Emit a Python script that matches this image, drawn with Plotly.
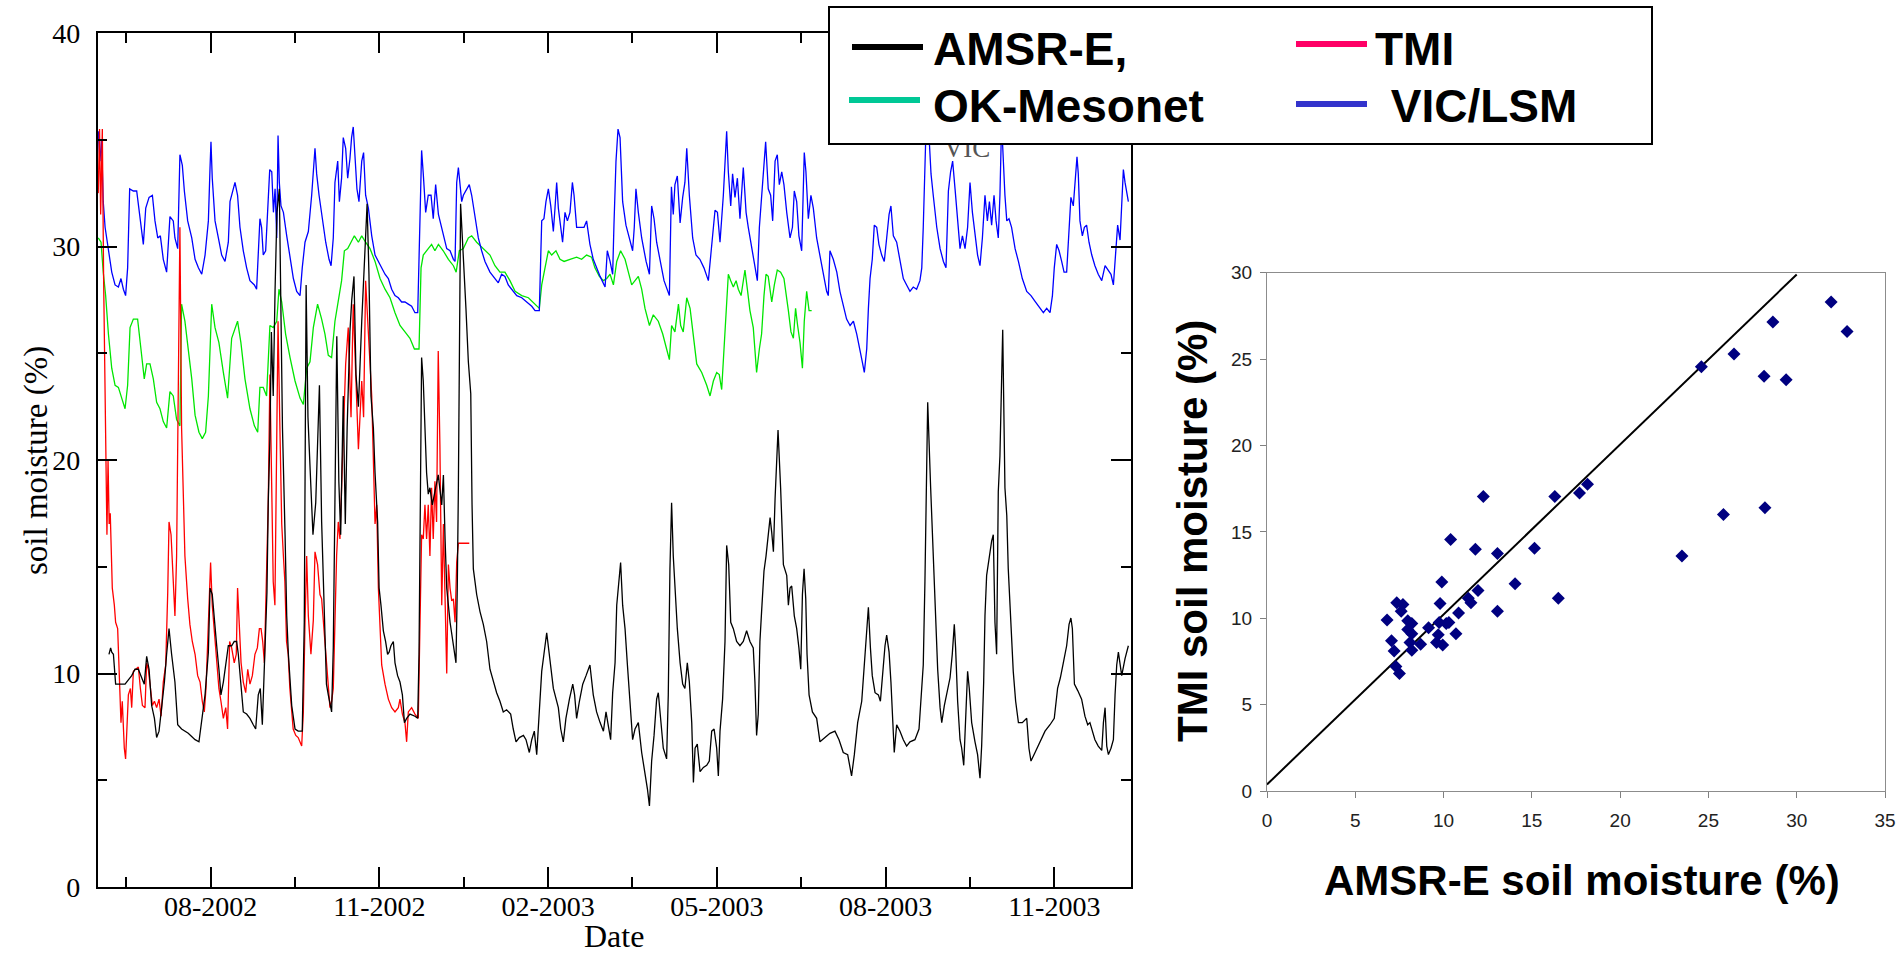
import pandas as pd
import plotly.graph_objects as go

# ---------------- data ----------------
SERIES_START = "2002-06-01"          # day 0 of the time series

# (days since SERIES_START, soil moisture %)
amsr_e = [(6.1,10.9),(7.0,11.2),(7.6,11.0),(8.5,10.9),(9.7,9.5),(12.1,9.5),(14.8,9.5),(16.6,9.7),(18.4,9.9),(20.2,10.2),(22.0,10.2),(23.8,9.8),(25.2,9.5),(26.5,10.8),(27.8,10.2),(29.2,8.5),(30.7,7.9),(31.9,7.0),(33.2,7.3),(34.6,8.4),(36.1,9.6),(37.3,10.9),(38.6,12.1),(40.0,10.9),(41.8,9.6),(43.3,7.6),(45.4,7.4),(49.0,7.2),(52.7,6.9),(54.8,6.8),(56.3,7.9),(58.1,9.0),(59.9,11.0),(60.8,14.0),(62.0,13.7),(63.1,12.4),(64.4,11.3),(65.6,10.2),(66.7,9.0),(68.0,9.6),(69.3,10.5),(70.7,11.3),(72.5,11.3),(73.9,11.5),(75.2,11.5),(76.1,10.9),(77.4,9.6),(78.8,8.2),(80.6,8.1),(82.4,7.9),(84.2,7.6),(85.5,7.4),(86.9,9.0),(88.0,9.3),(89.1,7.6),(90.2,10.1),(90.9,11.3),(91.6,13.8),(92.3,18.0),(93.2,21.0),(94.0,26.0),(95.0,23.0),(96.0,28.0),(97.0,31.6),(98.3,32.7),(99.0,27.0),(100.0,21.5),(101.4,16.5),(102.3,12.7),(103.2,10.9),(105.0,8.5),(106.8,7.4),(108.5,7.3),(110.7,7.3),(111.8,12.4),(112.8,28.2),(113.8,22.0),(115.0,19.5),(116.5,16.5),(118.0,18.0),(120.0,23.5),(121.2,17.1),(122.1,14.0),(123.0,10.9),(123.8,9.5),(124.8,9.0),(126.6,8.2),(127.5,11.2),(128.1,15.5),(129.4,25.8),(130.5,19.0),(131.5,16.5),(132.9,23.0),(134.0,17.0),(135.0,21.5),(136.5,26.0),(137.5,27.5),(138.7,28.6),(139.8,24.0),(141.1,22.5),(142.9,26.5),(143.9,28.2),(145.0,30.5),(145.8,32.0),(146.8,28.7),(147.9,23.0),(149.2,21.5),(150.1,19.4),(151.5,17.1),(152.3,14.0),(153.3,13.2),(154.6,12.0),(155.8,11.5),(156.9,10.9),(157.7,11.0),(158.7,11.3),(160.0,11.5),(160.9,10.5),(162.3,9.9),(163.6,9.6),(164.9,9.0),(166.0,7.7),(167.2,7.9),(169.0,8.1),(171.7,8.0),(173.2,7.9),(173.9,10.9),(174.6,17.1),(175.3,24.8),(176.2,23.7),(177.1,21.5),(178.0,19.4),(178.9,18.4),(179.8,18.7),(181.1,17.9),(182.5,18.5),(184.3,19.3),(186.2,17.9),(187.1,19.3),(188.0,16.3),(188.9,14.0),(190.7,12.4),(192.5,11.2),(193.9,10.5),(194.6,14.0),(195.2,18.7),(196.4,32.0),(197.9,29.6),(199.3,27.1),(200.6,24.6),(201.9,23.1),(202.6,17.9),(203.3,14.9),(205.1,13.7),(206.9,12.9),(208.7,12.3),(210.5,11.5),(212.3,10.2),(214.1,9.6),(215.9,9.1),(217.7,8.7),(219.5,8.2),(221.3,8.3),(223.5,8.1),(224.9,7.4),(226.4,6.8),(228.2,7.0),(230.4,7.1),(231.8,6.9),(233.6,6.3),(234.9,6.9),(236.3,7.3),(237.6,6.2),(238.5,7.7),(240.3,10.1),(241.5,10.9),(243.0,11.9),(244.4,10.9),(246.6,9.3),(249.3,8.4),(250.6,7.4),(252.0,6.8),(253.4,7.9),(255.3,8.8),(257.1,9.5),(258.1,9.0),(259.2,7.9),(260.7,8.7),(262.5,9.5),(264.3,9.9),(266.4,10.4),(268.2,9.0),(270.0,8.2),(271.9,7.7),(273.7,7.3),(275.1,8.2),(276.4,7.4),(277.6,6.9),(278.7,9.1),(280.0,10.5),(280.9,13.2),(282.3,14.8),(283.0,15.2),(284.1,13.2),(285.4,12.1),(286.6,10.5),(288.1,8.4),(289.5,6.9),(290.8,7.4),(292.6,7.7),(294.4,6.3),(296.2,5.4),(297.5,4.6),(298.6,3.8),(299.8,5.9),(301.1,7.1),(302.5,8.8),(303.4,9.1),(304.7,7.9),(306.1,6.5),(307.9,6.0),(308.8,9.0),(309.7,14.9),(310.6,18.0),(311.5,15.5),(312.4,14.0),(313.7,12.1),(315.2,10.5),(316.6,9.5),(317.8,9.3),(319.1,10.5),(320.2,9.6),(321.5,7.7),(322.4,4.9),(323.3,6.5),(324.5,6.7),(326.0,5.4),(327.8,5.6),(329.6,5.7),(331.0,5.9),(332.3,7.3),(333.6,7.4),(335.0,6.5),(335.9,5.2),(336.8,7.3),(338.2,8.8),(339.5,11.5),(340.4,16.0),(341.5,15.1),(342.6,12.4),(344.0,12.1),(345.8,11.5),(347.6,11.3),(349.4,11.5),(351.2,12.0),(353.0,11.5),(354.8,11.2),(355.7,9.6),(356.6,7.1),(357.5,8.1),(358.4,11.5),(359.3,12.9),(360.6,14.8),(361.7,15.5),(362.9,16.5),(363.9,17.3),(364.8,16.6),(365.7,15.7),(366.6,18.2),(367.4,20.2),(368.2,21.4),(369.6,18.7),(371.1,15.1),(372.9,14.6),(373.8,13.2),(374.7,14.0),(375.6,14.1),(377.0,12.7),(378.3,12.1),(379.5,11.2),(380.5,10.2),(381.4,13.7),(382.3,14.9),(383.2,13.5),(383.9,10.9),(385.0,9.0),(386.8,8.2),(389.1,7.9),(390.9,6.8),(393.6,7.0),(396.3,7.2),(399.0,7.3),(401.2,6.9),(403.5,6.3),(405.9,6.2),(408.0,5.2),(409.5,6.2),(411.3,7.7),(413.5,8.7),(415.3,10.9),(416.4,12.4),(417.1,13.1),(418.2,11.2),(419.2,9.9),(420.7,9.1),(422.5,9.0),(423.6,8.7),(424.6,9.8),(426.1,11.3),(427.0,11.8),(428.3,11.0),(429.3,9.6),(430.1,8.4),(431.1,6.3),(432.4,7.6),(434.2,7.3),(436.0,6.9),(437.8,6.6),(439.6,6.8),(442.3,6.9),(444.5,7.4),(445.6,8.7),(446.8,10.4),(447.7,14.3),(448.6,20.2),(449.2,22.7),(450.8,18.7),(452.2,15.5),(453.5,12.4),(454.6,10.2),(455.9,8.4),(456.8,7.7),(458.2,8.5),(459.5,9.1),(461.3,9.8),(462.5,10.9),(463.6,12.3),(464.3,11.2),(465.4,8.7),(466.7,6.9),(467.6,6.5),(468.7,5.7),(469.8,8.4),(470.8,10.1),(471.7,9.3),(473.0,7.7),(474.8,6.8),(476.2,6.2),(477.5,5.1),(478.4,6.6),(479.5,9.6),(480.2,12.7),(481.1,14.6),(482.4,15.5),(483.8,16.2),(484.7,16.5),(485.6,12.4),(486.5,10.9),(487.4,18.5),(488.3,20.2),(489.8,26.1),(491.0,18.7),(492.0,17.4),(492.8,14.9),(494.3,12.4),(495.5,10.1),(496.8,8.7),(498.3,7.7),(500.4,7.7),(502.8,7.9),(504.0,6.5),(505.1,5.9),(507.3,6.3),(510.0,6.8),(512.7,7.3),(515.4,7.6),(517.7,7.9),(519.5,9.3),(521.0,9.8),(522.6,10.5),(524.4,11.3),(525.7,12.3),(526.7,12.6),(527.5,12.1),(528.6,9.5),(530.4,9.2),(532.5,8.8),(534.3,8.0),(535.8,7.6),(537.0,7.7),(538.3,7.3),(539.7,6.9),(541.5,6.6),(543.4,6.4),(544.3,7.7),(545.2,8.4),(546.1,6.6),(547.0,6.2),(548.4,6.5),(549.7,6.9),(550.6,9.0),(551.5,10.4),(552.4,11.0),(553.3,10.4),(554.2,9.9),(556.0,10.7),(557.8,11.3)]

tmi = [(0.3,32.5),(1.0,35.5),(1.6,31.5),(2.5,35.5),(3.2,28.5),(4.0,24.0),(4.5,19.5),(5.0,16.5),(5.6,20.0),(6.2,17.0),(6.8,17.5),(7.4,15.0),(7.9,14.0),(9.0,13.2),(9.7,12.4),(10.8,12.1),(11.5,10.1),(12.6,7.7),(13.3,8.7),(14.4,6.5),(15.1,6.0),(15.9,7.7),(16.6,9.0),(17.7,9.3),(18.4,8.4),(19.3,10.1),(20.5,10.2),(22.0,10.3),(23.1,9.3),(24.2,8.5),(25.6,8.4),(26.5,10.5),(27.4,10.2),(28.5,9.3),(29.6,8.5),(30.7,8.7),(31.9,8.4),(33.2,8.8),(34.3,8.0),(35.5,9.6),(36.8,10.4),(37.9,13.8),(38.6,17.1),(39.7,16.5),(40.4,15.2),(41.1,13.4),(41.8,12.7),(42.7,15.5),(43.6,22.0),(44.5,30.9),(45.4,21.5),(46.3,18.7),(47.2,15.5),(48.7,13.5),(49.9,12.3),(51.2,11.5),(52.7,10.9),(54.1,9.9),(55.4,9.6),(56.6,8.7),(57.7,8.2),(58.6,9.3),(59.5,11.5),(60.4,13.7),(61.1,15.2),(62.0,13.2),(63.1,12.1),(64.4,10.9),(65.6,9.3),(66.7,8.7),(68.0,7.9),(69.3,8.4),(70.3,7.4),(71.4,11.5),(72.5,11.2),(73.9,10.5),(75.0,10.9),(75.7,14.0),(76.5,12.4),(77.6,10.5),(78.8,9.6),(80.1,9.1),(81.2,10.2),(82.4,9.5),(83.7,9.9),(85.1,10.9),(86.4,11.2),(87.5,12.1),(88.4,12.1),(89.3,11.5),(90.2,10.5),(90.9,12.7),(91.6,15.5),(92.3,18.0),(93.2,24.0),(94.0,19.0),(95.0,14.3),(95.9,13.2),(96.8,20.5),(97.6,26.5),(98.5,22.0),(99.6,17.0),(100.5,15.5),(101.3,14.3),(102.2,11.5),(103.1,10.9),(104.0,9.3),(104.9,8.2),(105.8,7.4),(107.2,7.1),(108.5,7.0),(110.4,6.6),(111.3,8.2),(112.2,12.4),(113.1,15.5),(114.0,12.7),(115.4,10.9),(116.7,12.5),(117.6,15.7),(119.0,15.1),(120.3,13.7),(121.2,13.5),(122.1,12.4),(123.0,11.5),(123.9,10.2),(124.8,9.0),(125.7,8.4),(126.6,8.7),(127.5,9.3),(128.4,12.4),(129.3,15.5),(130.2,17.1),(131.1,16.3),(132.0,18.7),(132.9,21.0),(134.2,24.5),(135.6,26.2),(137.1,22.0),(138.3,27.3),(139.6,24.0),(141.1,20.5),(142.9,23.7),(143.9,22.0),(145.0,28.4),(146.5,26.2),(148.3,23.0),(150.1,17.0),(151.0,17.9),(151.9,14.0),(152.8,11.8),(153.7,10.4),(155.5,9.5),(157.3,8.8),(159.1,8.4),(160.9,8.2),(162.7,8.4),(163.6,8.8),(164.9,8.1),(166.3,7.7),(167.2,6.8),(168.1,8.2),(169.9,8.4),(171.7,8.1),(173.5,7.9),(174.4,12.4),(175.3,16.5),(176.2,16.3),(177.1,17.9),(178.0,16.3),(178.9,17.9),(179.8,15.5),(180.7,18.7),(181.6,16.3),(182.5,19.0),(183.4,17.1),(184.3,25.1),(185.2,20.7),(186.2,13.2),(187.1,17.0),(188.0,13.0),(188.9,10.0),(189.8,15.1),(190.7,14.0),(191.6,13.4),(192.5,13.5),(193.4,12.4),(194.3,15.2),(195.2,16.1),(201.1,16.1)]

ok_mesonet = [(0.3,30.4),(1.8,30.2),(3.0,28.8),(4.3,27.7),(5.8,25.9),(7.6,24.3),(9.4,23.5),(11.2,23.4),(13.0,22.9),(14.8,22.4),(16.2,23.5),(17.5,26.2),(19.3,26.6),(21.6,26.6),(23.4,25.2),(25.2,23.8),(26.5,24.5),(28.3,24.5),(30.1,23.8),(31.9,22.7),(33.7,22.4),(35.5,21.8),(37.3,21.5),(39.1,23.2),(40.9,23.0),(42.7,21.9),(44.5,21.6),(45.4,27.3),(47.2,26.5),(49.0,25.2),(50.9,23.8),(52.7,22.1),(54.8,21.3),(56.6,21.0),(58.4,21.3),(59.9,23.0),(60.8,25.2),(61.7,27.3),(63.5,26.2),(65.6,25.5),(68.0,24.1),(70.3,22.9),(72.5,25.7),(74.3,26.2),(75.7,26.5),(77.5,25.5),(79.7,23.8),(82.4,22.4),(84.8,21.6),(86.6,21.3),(87.8,23.4),(89.6,23.4),(91.4,23.0),(93.2,26.3),(95.0,26.2),(96.9,26.5),(98.1,28.0),(99.6,27.4),(101.7,25.9),(104.1,24.8),(106.8,23.7),(109.5,22.9),(111.3,22.6),(113.1,24.3),(114.9,24.6),(116.7,26.2),(119.0,27.3),(121.2,26.6),(123.0,25.9),(124.8,24.9),(126.6,24.8),(128.4,26.5),(130.2,27.4),(132.0,28.4),(133.5,29.8),(135.3,29.9),(137.1,30.2),(138.9,30.5),(141.1,30.2),(142.9,30.5),(145.0,30.2),(147.4,29.9),(150.1,29.3),(152.8,28.5),(155.5,28.0),(158.2,27.6),(160.9,26.9),(163.6,26.3),(166.3,26.0),(169.0,25.7),(171.4,25.2),(173.9,25.2),(175.0,29.0),(176.2,29.6),(178.9,29.9),(180.7,30.1),(182.5,29.8),(184.4,30.1),(187.0,29.8),(189.8,29.4),(192.5,29.1),(194.0,28.8),(195.7,29.8),(197.9,29.9),(200.6,30.4),(202.4,30.5),(205.1,30.2),(208.7,29.9),(212.3,29.6),(215.0,29.1),(217.7,28.8),(220.4,28.8),(223.1,28.4),(225.9,27.9),(229.5,27.7),(233.1,27.6),(236.7,27.3),(239.0,27.1),(240.3,28.2),(242.1,29.1),(243.9,29.8),(245.7,29.6),(248.0,29.8),(250.2,29.4),(252.4,29.3),(255.6,29.4),(259.2,29.5),(261.9,29.4),(264.6,29.6),(267.3,29.5),(269.1,29.0),(271.5,28.6),(273.7,28.4),(275.5,28.5),(277.3,28.7),(279.1,28.2),(280.9,29.3),(283.0,29.8),(285.4,29.4),(287.2,28.8),(289.0,28.2),(290.8,28.4),(292.6,28.6),(294.4,28.0),(296.2,27.1),(298.6,26.3),(300.7,26.8),(303.4,26.5),(305.8,25.9),(307.9,25.2),(309.4,24.7),(310.6,26.3),(312.4,26.0),(314.3,27.3),(315.5,26.3),(316.9,26.0),(318.8,27.6),(320.6,27.1),(322.4,25.9),(324.2,24.5),(326.9,24.1),(329.6,23.5),(331.4,23.0),(333.2,23.7),(335.0,24.1),(336.4,24.0),(337.7,23.3),(338.9,25.1),(340.4,27.1),(341.3,28.7),(342.6,28.4),(344.0,28.1),(345.5,28.4),(346.7,28.0),(348.2,27.7),(349.4,28.4),(350.3,28.9),(351.6,28.0),(353.0,27.0),(354.8,26.2),(356.6,24.1),(358.1,25.2),(359.3,25.9),(360.6,27.7),(361.7,28.7),(362.9,28.6),(364.8,27.4),(366.2,28.2),(367.8,28.9),(369.6,28.8),(371.4,28.5),(373.8,27.0),(375.2,26.0),(376.5,25.7),(377.7,27.1),(378.8,26.3),(380.1,25.5),(381.4,24.3),(382.4,26.5),(383.7,27.9),(385.0,27.0),(386.4,27.0)]

vic_lsm = [(0.3,35.4),(1.2,34.0),(2.1,35.0),(3.0,32.1),(4.0,30.9),(5.8,29.8),(7.6,28.8),(9.4,28.2),(11.2,28.1),(12.6,28.5),(13.9,28.0),(15.1,27.7),(16.2,29.0),(17.3,32.7),(19.3,32.6),(21.1,32.6),(22.9,31.3),(24.7,30.1),(26.0,31.8),(27.8,32.3),(29.6,32.4),(31.0,31.2),(32.5,30.4),(33.9,30.5),(35.5,29.4),(37.3,28.8),(39.1,31.4),(40.9,31.2),(41.8,30.4),(43.3,29.9),(44.5,34.3),(45.8,33.8),(46.9,32.6),(48.7,31.2),(50.9,30.4),(52.7,29.4),(54.5,29.0),(56.3,28.7),(58.1,29.6),(59.9,31.2),(60.8,33.7),(61.3,34.9),(62.0,33.2),(63.5,31.2),(65.3,30.4),(67.1,29.6),(68.9,29.3),(70.7,30.2),(71.6,32.1),(72.9,32.6),(74.3,33.0),(75.7,32.4),(77.0,30.9),(78.8,29.8),(80.6,29.0),(82.4,28.4),(84.8,28.2),(86.0,28.0),(86.9,30.1),(87.8,31.3),(88.7,30.9),(89.6,29.6),(90.9,29.8),(92.0,31.6),(93.1,33.6),(94.2,33.5),(95.1,31.6),(96.0,32.7),(96.9,30.4),(97.6,35.2),(98.3,33.0),(99.2,31.9),(100.5,31.6),(102.3,30.5),(104.1,29.4),(105.9,28.5),(107.7,27.9),(109.5,27.7),(110.7,29.0),(112.2,30.2),(114.0,30.7),(115.8,32.4),(117.6,34.6),(118.5,33.4),(119.8,32.4),(121.6,31.2),(123.4,30.2),(125.2,29.4),(126.3,29.1),(127.5,30.4),(128.4,33.0),(129.9,34.0),(130.8,32.1),(132.0,33.2),(132.9,35.1),(134.2,34.6),(135.3,33.2),(136.5,34.1),(137.4,35.1),(138.3,35.6),(139.3,34.0),(140.3,32.7),(141.4,32.1),(142.9,34.0),(143.9,34.4),(145.0,32.4),(146.5,31.8),(148.3,30.5),(150.1,29.6),(151.9,29.3),(153.7,29.0),(155.5,28.7),(157.3,28.5),(159.1,28.0),(160.9,27.7),(162.7,27.6),(164.5,27.4),(166.3,27.4),(168.1,27.3),(169.9,27.2),(171.7,26.9),(173.2,26.9),(174.4,31.2),(175.3,34.5),(176.2,33.4),(177.5,31.6),(178.9,32.4),(180.4,32.4),(181.6,31.3),(182.9,32.9),(184.4,31.5),(186.2,30.9),(188.9,29.9),(190.7,29.8),(192.5,29.4),(193.4,29.3),(194.3,33.0),(195.2,33.7),(196.1,32.9),(197.0,32.1),(197.9,32.4),(199.7,32.7),(201.1,32.9),(202.4,32.4),(204.2,31.3),(206.0,30.4),(207.8,29.8),(209.6,29.3),(212.3,28.8),(215.0,28.5),(216.8,28.3),(218.6,28.7),(220.4,28.6),(222.2,28.2),(224.0,28.0),(226.8,27.7),(229.5,27.6),(232.2,27.4),(234.9,27.2),(236.7,27.0),(239.0,27.0),(240.3,31.2),(241.5,31.3),(242.6,32.1),(243.9,32.7),(245.2,31.9),(246.6,30.7),(247.5,31.8),(248.4,33.0),(249.3,31.8),(250.6,31.0),(251.6,30.2),(252.9,31.6),(254.2,31.2),(255.6,31.6),(256.9,33.0),(257.8,32.4),(259.2,30.9),(261.0,30.9),(263.2,30.9),(264.6,31.2),(266.4,30.1),(268.2,29.4),(270.0,29.0),(271.9,28.6),(274.6,28.1),(275.8,29.8),(277.3,29.3),(278.7,28.7),(279.4,31.0),(280.5,34.0),(281.6,35.5),(282.7,35.1),(284.1,32.1),(285.9,31.0),(287.7,30.4),(289.5,29.8),(290.4,30.9),(291.3,32.7),(292.6,31.6),(294.4,30.4),(296.8,29.3),(298.6,28.7),(299.8,31.9),(301.1,31.3),(302.5,30.2),(304.3,29.3),(306.5,28.4),(309.4,27.7),(310.5,32.8),(311.5,31.5),(312.4,32.9),(313.7,33.3),(315.2,31.1),(316.6,32.3),(317.8,33.0),(318.8,34.6),(320.2,32.4),(322.0,30.4),(323.8,29.6),(325.9,29.4),(328.1,29.0),(330.5,28.4),(332.3,30.2),(334.1,31.7),(335.4,31.6),(336.8,30.2),(338.6,32.4),(339.5,33.7),(340.4,35.4),(341.3,33.5),(342.6,31.9),(343.6,33.4),(344.9,32.3),(346.2,33.2),(347.6,31.3),(349.4,33.7),(350.9,31.6),(352.1,30.9),(353.9,29.9),(355.7,29.1),(357.0,28.4),(358.1,30.9),(359.3,32.4),(360.2,33.4),(361.5,34.9),(362.9,32.7),(364.2,32.4),(365.3,31.2),(366.6,34.0),(367.8,34.3),(368.9,32.9),(370.2,33.5),(371.4,32.9),(372.9,31.6),(374.7,30.4),(376.0,30.9),(377.0,32.6),(378.3,32.1),(379.5,30.5),(381.0,29.8),(381.9,32.4),(382.4,34.4),(383.3,33.5),(384.6,31.3),(386.0,32.4),(387.3,31.8),(389.1,30.4),(390.9,29.6),(392.7,28.7),(394.5,27.9),(395.4,27.7),(396.3,29.8),(398.1,29.4),(400.0,28.8),(401.7,27.9),(403.5,27.3),(405.3,26.6),(407.2,26.3),(409.0,26.5),(410.8,25.9),(412.6,25.2),(413.8,24.6),(414.9,24.1),(416.2,25.2),(417.1,27.1),(418.0,28.5),(419.2,29.4),(420.3,31.0),(421.6,30.9),(422.8,30.1),(424.3,29.6),(425.7,29.3),(427.0,30.4),(428.3,31.5),(429.3,31.9),(430.6,30.5),(432.4,30.2),(434.2,29.4),(436.0,28.5),(437.8,28.2),(439.6,27.9),(441.4,28.1),(443.2,28.0),(445.0,28.4),(446.0,29.0),(446.8,30.9),(447.7,34.0),(448.6,36.5),(449.9,35.2),(451.0,33.4),(452.2,32.4),(454.1,30.9),(455.9,29.9),(457.7,29.3),(459.1,29.0),(460.4,32.6),(461.6,33.5),(462.7,34.0),(464.0,32.7),(465.4,31.2),(466.7,29.9),(468.0,30.5),(469.4,29.9),(470.8,30.9),(472.1,33.0),(473.4,31.6),(474.8,30.5),(476.2,29.6),(477.5,29.1),(478.8,30.4),(480.2,32.4),(481.5,31.2),(482.6,32.1),(483.8,31.0),(485.1,32.4),(486.2,31.2),(487.4,30.4),(488.3,32.4),(489.2,35.8),(490.1,33.8),(491.0,32.4),(492.0,31.2),(493.2,31.3),(494.6,30.9),(496.5,29.9),(498.3,29.3),(500.4,28.5),(502.8,27.9),(505.1,27.7),(507.6,27.4),(510.0,27.1),(511.8,26.9),(513.6,27.1),(515.4,26.9),(516.7,27.7),(517.7,29.0),(519.0,30.1),(520.3,29.8),(521.7,29.3),(523.0,28.8),(524.4,28.8),(525.7,30.5),(526.7,32.3),(528.0,31.9),(529.3,33.4),(530.0,34.2),(530.7,33.4),(531.6,31.2),(532.9,30.5),(534.0,30.9),(535.2,31.0),(536.5,30.2),(538.0,29.6),(539.7,29.1),(541.5,28.7),(543.4,28.4),(545.2,29.1),(546.6,28.9),(548.4,28.7),(549.7,28.2),(551.0,29.8),(552.0,31.0),(553.3,30.3),(554.2,31.9),(555.1,33.6),(556.0,33.0),(557.8,32.1)]

# date axis: labelled ticks every quarter of a year, half-way minor ticks
x_tick_labels = ["08-2002", "11-2002", "02-2003", "05-2003", "08-2003", "11-2003"]
FIRST_TICK = "2002-08-01 03:36"
TICK_STEP_DAYS = 91.31
X_RANGE = ["2002-06-01", "2003-12-11 23:00"]
y_ticks = [0, 10, 20, 30, 40]

# scatter: AMSR-E vs TMI
amsr_sc = [6.8,7.05,7.2,7.3,7.5,7.35,7.7,7.6,7.97,8.2,7.97,8.2,8.1,8.2,8.7,9.15,9.6,9.7,9.75,9.8,9.9,9.95,10.15,10.3,10.4,10.7,10.85,11.4,11.55,11.8,11.95,12.25,13.05,13.05,14.05,15.15,16.3,16.5,17.7,18.15,23.5,24.6,25.85,26.45,28.15,28.2,28.65,29.4,31.95,32.85]
tmi_sc = [9.9,8.7,8.1,7.2,6.8,10.9,10.8,10.4,9.85,9.7,9.35,9.1,8.6,8.15,8.5,9.45,8.6,9.05,9.75,10.85,12.1,8.45,9.7,9.75,14.55,9.1,10.3,11.15,10.9,14.0,11.6,17.05,13.75,10.4,12.0,14.05,17.05,11.15,17.25,17.75,13.6,24.55,16.0,25.3,24.0,16.4,27.15,23.8,28.3,26.6]
fit_x = [0.0, 30.0]
fit_y = [0.38, 29.9]

# ---------------- helpers ----------------
start = pd.Timestamp(SERIES_START)
fmt = "%Y-%m-%d %H:%M:%S"


def to_xy(pairs):
    xs = [(start + pd.Timedelta(days=d)).strftime(fmt) for d, _ in pairs]
    ys = [v for _, v in pairs]
    return xs, ys


t0 = pd.Timestamp(FIRST_TICK)
major_vals = [(t0 + pd.Timedelta(days=TICK_STEP_DAYS * k)).strftime(fmt) for k in range(len(x_tick_labels))]
minor_vals = [(t0 + pd.Timedelta(days=TICK_STEP_DAYS * (k + 0.5))).strftime(fmt) for k in range(-1, len(x_tick_labels))]

W, H = 1899, 956


def px(x):
    return x / W


def py(y):
    return 1 - y / H


SERIF = "Liberation Serif, Times New Roman, serif"
SANS = "Liberation Sans, Arial, sans-serif"

fig = go.Figure()

for pairs, color in [(ok_mesonet, "#00e600"), (vic_lsm, "#0000ff"), (tmi, "#ff0000"), (amsr_e, "#000000")]:
    xs, ys = to_xy(pairs)
    fig.add_trace(go.Scatter(x=xs, y=ys, mode="lines", line=dict(color=color, width=1.3),
                             showlegend=False, xaxis="x", yaxis="y", hoverinfo="skip"))

# leftover text of the original legend peeking out under the pasted legend box
fig.add_trace(go.Scatter(x=[(start + pd.Timedelta(days=470.5)).strftime(fmt)], y=[34.5],
                         mode="text", text=["VIC"], textposition="middle center",
                         textfont=dict(family=SERIF, size=27, color="#555555"),
                         showlegend=False, xaxis="x", yaxis="y", hoverinfo="skip"))

fig.add_trace(go.Scatter(x=fit_x, y=fit_y, mode="lines", line=dict(color="black", width=2),
                         showlegend=False, xaxis="x2", yaxis="y2", hoverinfo="skip"))
fig.add_trace(go.Scatter(x=amsr_sc, y=tmi_sc, mode="markers",
                         marker=dict(symbol="diamond", size=10, color="#000080"),
                         showlegend=False, xaxis="x2", yaxis="y2"))

# ---------------- legend drawn as a box ----------------
shapes = [dict(type="rect", xref="paper", yref="paper", x0=px(829), x1=px(1652), y0=py(144), y1=py(7),
               line=dict(color="black", width=2), fillcolor="white", layer="above")]
legend_items = [("AMSR-E,", "#000000", 852, 923, 47, 931, 49),
                ("OK-Mesonet", "#00c896", 849, 920, 100, 931, 106),
                ("TMI", "#ff0066", 1296, 1367, 44, 1373, 49),
                (" VIC/LSM", "#3333cc", 1296, 1367, 104, 1376, 106)]
annotations = []
for name, col, lx0, lx1, ly, tx, ty in legend_items:
    shapes.append(dict(type="line", xref="paper", yref="paper", x0=px(lx0), x1=px(lx1), y0=py(ly), y1=py(ly),
                       line=dict(color=col, width=6), layer="above"))
    annotations.append(dict(text="<b>%s</b>" % name, xref="paper", yref="paper", x=px(tx), y=py(ty),
                            xanchor="left", yanchor="middle", showarrow=False,
                            font=dict(family=SANS, size=46, color="black")))

# axis titles
annotations += [
    dict(text="soil moisture (%)", xref="paper", yref="paper", x=px(37), y=py(461), textangle=-90,
         xanchor="center", yanchor="middle", showarrow=False, font=dict(family=SERIF, size=33, color="black")),
    dict(text="Date", xref="paper", yref="paper", x=px(614), y=py(936), xanchor="center", yanchor="middle",
         showarrow=False, font=dict(family=SERIF, size=32, color="black")),
    dict(text="<b>AMSR-E soil moisture (%)</b>", xref="paper", yref="paper", x=px(1582), y=py(880),
         xanchor="center", yanchor="middle", showarrow=False, font=dict(family=SANS, size=42, color="black")),
    dict(text="<b>TMI soil moisture (%)</b>", xref="paper", yref="paper", x=px(1192), y=py(531), textangle=-90,
         xanchor="center", yanchor="middle", showarrow=False, font=dict(family=SANS, size=42, color="black")),
]

fig.update_layout(
    width=W, height=H, margin=dict(l=0, r=0, t=0, b=0, autoexpand=False),
    paper_bgcolor="white", plot_bgcolor="white", showlegend=False,
    shapes=shapes, annotations=annotations,
    xaxis=dict(domain=[px(97.7), px(1130.5)], type="date", range=X_RANGE,
               tickmode="array", tickvals=major_vals, ticktext=x_tick_labels,
               ticks="inside", ticklen=20, tickwidth=1.5, tickcolor="black",
               minor=dict(tickmode="array", tickvals=minor_vals, ticks="inside", ticklen=10,
                          tickwidth=1.5, tickcolor="black"),
               showline=True, linecolor="black", linewidth=1.5, mirror="ticks",
               showgrid=False, zeroline=False, ticklabelstandoff=-6, automargin=False,
               tickfont=dict(family=SERIF, size=28, color="black")),
    yaxis=dict(domain=[py(887), py(33)], range=[0, 40], tickmode="array", tickvals=y_ticks,
               ticks="inside", ticklen=20, tickwidth=1.5, tickcolor="black",
               minor=dict(tickmode="linear", tick0=0, dtick=5, ticks="inside", ticklen=10,
                          tickwidth=1.5, tickcolor="black"),
               showline=True, linecolor="black", linewidth=1.5, mirror="ticks",
               showgrid=False, zeroline=False, ticklabelstandoff=10, automargin=False,
               tickfont=dict(family=SERIF, size=28, color="black")),
    xaxis2=dict(domain=[px(1267), px(1885)], range=[0, 35], dtick=5, tick0=0, anchor="y2",
                ticks="outside", ticklen=6, tickcolor="#808080", showline=True, linecolor="#8c8c8c",
                linewidth=1, mirror=True, showgrid=False, zeroline=False, ticklabelstandoff=6,
                automargin=False, tickfont=dict(family=SANS, size=19, color="#222222")),
    yaxis2=dict(domain=[py(791), py(272.7)], range=[0, 30], dtick=5, tick0=0, anchor="x2",
                ticks="outside", ticklen=6, tickcolor="#808080", showline=True, linecolor="#8c8c8c",
                linewidth=1, mirror=True, showgrid=False, zeroline=False, ticklabelstandoff=4,
                automargin=False, tickfont=dict(family=SANS, size=19, color="#222222")),
)

fig.write_html("out.html")
